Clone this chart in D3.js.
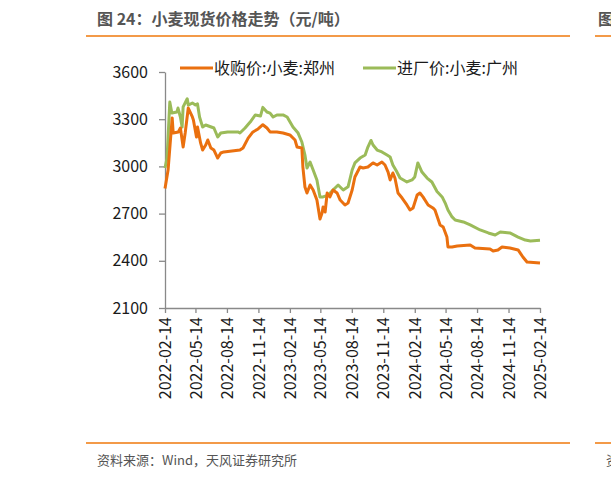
<html>
  <head>
    <meta charset="utf-8" />
    <script src="https://cdn.jsdelivr.net/npm/d3@7"></script>
    <style>
      * {
        margin: 0;
        padding: 0;
      }
      body {
        background-color: white;
        font-family: "Noto Sans CJK SC", "Noto Sans", sans-serif;
      }
      .axis path,
      .axis line {
        stroke: #898989;
        stroke-width: 1.3px;
      }
      .axis text {
        fill: #1a1a1a;
        font-size: 16px;
        font-family: "Noto Sans CJK SC", "Noto Sans", sans-serif;
      }
      .series {
        fill: none;
        stroke-width: 3px;
        stroke-linejoin: round;
      }
    </style>
  </head>
  <body>
    <div id="chart"></div>
    <script>
      // 收购价:小麦:郑州
      const zzDates = [
        "2022-02-14", "2022-02-23", "2022-03-07", "2022-03-10", "2022-03-25", "2022-03-31",
        "2022-04-08", "2022-04-14", "2022-04-23", "2022-05-05", "2022-05-08", "2022-05-17",
        "2022-05-20", "2022-05-29", "2022-06-04", "2022-06-13", "2022-06-19", "2022-06-28",
        "2022-07-07", "2022-07-18", "2022-07-27", "2022-08-05", "2022-09-21", "2022-09-30",
        "2022-10-15", "2022-10-29", "2022-11-13", "2022-11-27", "2022-12-09", "2022-12-18",
        "2023-01-07", "2023-01-25", "2023-02-14", "2023-03-01", "2023-03-07", "2023-03-21",
        "2023-03-24", "2023-03-30", "2023-04-05", "2023-04-14", "2023-04-23", "2023-05-04",
        "2023-05-13", "2023-05-19", "2023-05-22", "2023-05-28", "2023-06-03", "2023-06-11",
        "2023-06-20", "2023-07-02", "2023-07-11", "2023-07-25", "2023-08-03", "2023-08-15",
        "2023-08-23", "2023-09-07", "2023-09-16", "2023-09-30", "2023-10-15", "2023-10-27",
        "2023-11-10", "2023-11-19", "2023-11-28", "2023-12-04", "2023-12-12", "2023-12-18",
        "2023-12-27", "2024-01-08", "2024-01-22", "2024-01-31", "2024-02-09", "2024-02-21",
        "2024-02-29", "2024-03-09", "2024-03-24", "2024-04-07", "2024-04-13", "2024-04-28",
        "2024-05-07", "2024-05-18", "2024-05-21", "2024-06-02", "2024-06-17", "2024-07-25",
        "2024-08-08", "2024-09-21", "2024-09-30", "2024-10-14", "2024-10-26", "2024-11-18",
        "2024-12-12", "2024-12-26", "2025-01-07", "2025-02-14"
      ];
      const zzValues = [
        2860, 2977, 3308, 3212, 3219, 3244,
        3123, 3212, 3371, 3314, 3295, 3187,
        3250, 3149, 3104, 3136, 3168, 3117,
        3104, 3053, 3085, 3092, 3104, 3117,
        3180, 3219, 3238, 3265, 3244, 3219,
        3219, 3212, 3200, 3168, 3123, 3117,
        2996, 2869, 2831, 2882, 2850, 2786,
        2665, 2704, 2742, 2710, 2831, 2806,
        2850, 2831, 2786, 2755, 2767, 2850,
        2933, 2996, 2990, 2996, 3022, 3009,
        3028, 3009, 2964, 2914, 2958, 2926,
        2831, 2799, 2755, 2723, 2736, 2818,
        2831, 2806, 2755, 2736, 2723, 2628,
        2615, 2551, 2488, 2488, 2494, 2500,
        2481, 2475, 2462, 2469, 2488, 2481,
        2469, 2424, 2392, 2386
      ];

      // 进厂价:小麦:广州
      const gzDates = [
        "2022-02-14", "2022-02-20", "2022-02-28", "2022-03-06", "2022-03-21", "2022-03-24",
        "2022-03-31", "2022-04-05", "2022-04-08", "2022-04-20", "2022-04-23", "2022-05-05",
        "2022-05-14", "2022-05-20", "2022-05-26", "2022-06-04", "2022-06-13", "2022-07-07",
        "2022-07-18", "2022-07-27", "2022-08-16", "2022-09-15", "2022-09-21", "2022-10-06",
        "2022-10-21", "2022-11-05", "2022-11-20", "2022-11-27", "2022-12-09", "2022-12-18",
        "2022-12-27", "2023-01-07", "2023-01-25", "2023-02-06", "2023-02-23", "2023-03-10",
        "2023-03-21", "2023-03-30", "2023-04-05", "2023-04-14", "2023-04-23", "2023-05-04",
        "2023-05-13", "2023-05-22", "2023-06-06", "2023-06-20", "2023-07-05", "2023-07-20",
        "2023-08-03", "2023-08-15", "2023-08-23", "2023-09-07", "2023-09-22", "2023-09-30",
        "2023-10-09", "2023-10-15", "2023-10-27", "2023-11-10", "2023-11-25", "2023-12-04",
        "2023-12-12", "2023-12-24", "2024-01-02", "2024-01-22", "2024-02-06", "2024-02-14",
        "2024-02-23", "2024-03-06", "2024-03-21", "2024-04-04", "2024-04-19", "2024-05-04",
        "2024-05-13", "2024-05-21", "2024-06-02", "2024-06-11", "2024-07-05", "2024-07-25",
        "2024-08-23", "2024-09-16", "2024-10-06", "2024-10-21", "2024-11-18", "2024-12-12",
        "2025-01-02", "2025-01-17", "2025-02-14"
      ];
      const gzValues = [
        2990, 3053, 3409, 3339, 3346, 3371,
        3314, 3250, 3378, 3430, 3390, 3403,
        3390, 3397, 3314, 3250, 3263, 3244,
        3187, 3212, 3219, 3219, 3212, 3244,
        3282, 3327, 3320, 3375, 3346, 3339,
        3314, 3327, 3327, 3314, 3250, 3212,
        3155, 3072, 2990, 3028, 2977, 2914,
        2806, 2806, 2818, 2850, 2882, 2850,
        2870, 2977, 3022, 3053, 3072, 3123,
        3165, 3136, 3104, 3092, 3072, 3060,
        3009, 2964, 2926, 2901, 2914, 2933,
        3022, 2964, 2926, 2901, 2840, 2806,
        2767, 2723, 2679, 2659, 2647, 2628,
        2596, 2577, 2564, 2583, 2577, 2551,
        2532, 2526, 2530
      ];

      const seriesNames = ["收购价:小麦:郑州", "进厂价:小麦:广州"];
      const seriesColors = ["#ea700f", "#9bbb59"];
      const yTicks = [2100, 2400, 2700, 3000, 3300, 3600];
      const xTickLabels = [
        "2022-02-14", "2022-05-14", "2022-08-14", "2022-11-14", "2023-02-14",
        "2023-05-14", "2023-08-14", "2023-11-14", "2024-02-14", "2024-05-14",
        "2024-08-14", "2024-11-14", "2025-02-14"
      ];

      const parse = d3.timeParse("%Y-%m-%d");
      const w = 611;
      const h = 477;

      const svg = d3
        .select("#chart")
        .append("svg")
        .attr("width", w)
        .attr("height", h);

      // header / footer (the right-hand fragments belong to the next figure, cut by the crop)
      svg.append("text")
        .attr("x", 97)
        .attr("y", 25)
        .attr("fill", "#555")
        .attr("font-size", 16)
        .attr("font-weight", "bold")
        .text("图 24：小麦现货价格走势（元/吨）");
      svg.append("text")
        .attr("x", 598)
        .attr("y", 25)
        .attr("fill", "#555")
        .attr("font-size", 16)
        .attr("font-weight", "bold")
        .text("图");
      [[86, 570], [595, 611]].forEach(([a, b]) => {
        svg.append("line").attr("x1", a).attr("x2", b).attr("y1", 36).attr("y2", 36)
          .attr("stroke", "#f39a48").attr("stroke-width", 2);
        svg.append("line").attr("x1", a).attr("x2", b).attr("y1", 443).attr("y2", 443)
          .attr("stroke", "#f39a48").attr("stroke-width", 2);
      });
      svg.append("text")
        .attr("x", 97)
        .attr("y", 465)
        .attr("fill", "#555")
        .attr("font-size", 13)
        .text("资料来源：Wind，天风证券研究所");
      svg.append("text")
        .attr("x", 606)
        .attr("y", 465)
        .attr("fill", "#555")
        .attr("font-size", 13)
        .text("资");

      const xScale = d3
        .scaleTime()
        .domain([parse("2022-02-14"), parse("2025-02-14")])
        .range([165, 540]);
      const yScale = d3.scaleLinear().domain([2100, 3600]).range([308, 72]);

      const xAxis = d3
        .axisBottom(xScale)
        .tickValues(xTickLabels.map(parse))
        .tickFormat(d3.timeFormat("%Y-%m-%d"))
        .tickSizeInner(5)
        .tickSizeOuter(0);
      const yAxis = d3
        .axisLeft(yScale)
        .tickValues(yTicks)
        .tickFormat(d3.format("d"))
        .tickSizeInner(6)
        .tickSizeOuter(0);

      svg.append("g")
        .attr("class", "axis")
        .attr("transform", "translate(0,308)")
        .call(xAxis)
        .selectAll("text")
        .attr("transform", "rotate(-90)")
        .attr("text-anchor", "end")
        .attr("x", -9)
        .attr("y", 0)
        .attr("dy", "0.35em");

      svg.append("g")
        .attr("class", "axis")
        .attr("transform", "translate(165,0)")
        .call(yAxis)
        .selectAll("text")
        .attr("x", -17);

      const line = d3
        .line()
        .x((d) => xScale(d.date))
        .y((d) => yScale(d.value));

      const series = [
        zzDates.map((d, i) => ({ date: parse(d), value: zzValues[i] })),
        gzDates.map((d, i) => ({ date: parse(d), value: gzValues[i] })),
      ];

      // green drawn first, orange on top
      [1, 0].forEach((k) => {
        svg.append("path")
          .datum(series[k])
          .attr("class", "series")
          .attr("stroke", seriesColors[k])
          .attr("d", line);
      });

      // legend
      const legendX = [180, 363];
      seriesNames.forEach((name, i) => {
        svg.append("line")
          .attr("x1", legendX[i]).attr("x2", legendX[i] + 33)
          .attr("y1", 68).attr("y2", 68)
          .attr("stroke", seriesColors[i]).attr("stroke-width", 3);
        svg.append("text")
          .attr("x", legendX[i] + 34)
          .attr("y", 68)
          .attr("dy", "0.35em")
          .attr("fill", "#1a1a1a")
          .attr("font-size", 16)
          .text(name);
      });
    </script>
  </body>
</html>
